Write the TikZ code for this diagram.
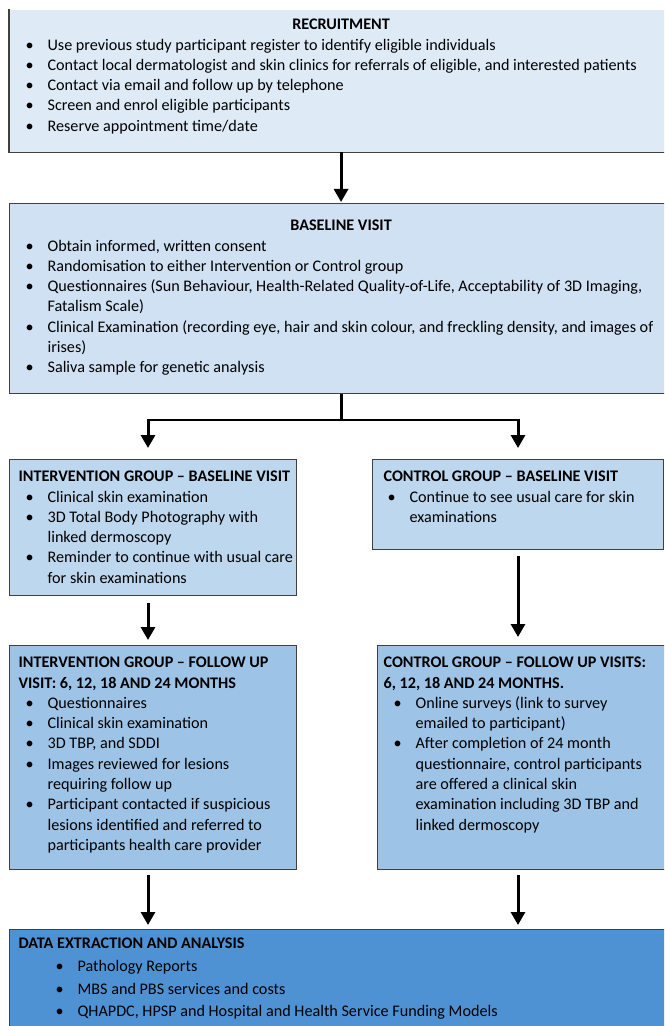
\documentclass[tikz,border=0pt]{standalone}
\usepackage{fontspec}
\setmainfont{Carlito}
\usetikzlibrary{arrows.meta,positioning,calc}
\definecolor{recfill}{HTML}{DEEBF7}
\definecolor{basefill}{HTML}{CFE1F2}
\definecolor{groupfill}{HTML}{BDD7EE}
\definecolor{followfill}{HTML}{9DC3E6}
\definecolor{datafill}{HTML}{4E92D3}
\definecolor{frameline}{HTML}{404040}
\newcommand{\stagetext}[5]{\parbox[c][#2][t]{#1}{\raggedright\leftskip=#3\relax\rightskip=-1cm plus 1fil\relax\vspace*{#4}#5}}
\newcommand{\itm}[2][0.58cm]{\par\hangindent=#1\hangafter=1\noindent\makebox[#1][l]{\hspace{\dimexpr#1-0.44cm\relax}\textbullet}\strut#2}
\newcommand{\heading}[1]{\par\noindent\strut\textbf{#1}}

\begin{document}
\begin{tikzpicture}[x=0.02cm,y=-0.02cm,font=\fontsize{9.2pt}{11.55pt}\selectfont,
 stage/.style={inner sep=0pt,anchor=north west,draw=frameline,line width=.7pt},
 flow/.style={line width=0.06cm,-{Triangle[length=0.26cm,width=0.28cm]}},
 link/.style={line width=0.06cm}]
\useasboundingbox (0,0) rectangle (664,1026);
\clip (0,0) rectangle (664,1026);
\node[stage,draw=none,fill=recfill] (rec) at (9,9) {\stagetext{13.26cm}{2.84cm}{0.18cm}{0.12cm}{%
 \centerline{\strut\textbf{RECRUITMENT}}
 \itm{Use previous study participant register to identify eligible individuals}
 \itm{Contact local dermatologist and skin clinics for referrals of eligible, and interested patients}
 \itm{Contact via email and follow up by telephone}
 \itm{Screen and enrol eligible participants}
 \itm{Reserve appointment time/date}}};
\draw[frameline,line width=.7pt] (rec.north west) -- (rec.south west) -- (rec.south east);
\node[stage,fill=basefill] (base) at (9,203) {\stagetext{13.26cm}{3.8cm}{0.18cm}{0.26cm}{%
 \centerline{\strut\textbf{BASELINE VISIT}}
 \itm{Obtain informed, written consent}
 \itm{Randomisation to either Intervention or Control group}
 \itm{Questionnaires (Sun Behaviour, Health-Related Quality-of-Life, Acceptability of 3D Imaging,\newline Fatalism Scale)}
 \itm{Clinical Examination (recording eye, hair and skin colour, and freckling density, and images of\newline irises)}
 \itm{Saliva sample for genetic analysis}}};
\node[stage,fill=groupfill] (ib) at (9,459) {\stagetext{5.74cm}{2.72cm}{0.18cm}{0.16cm}{%
 \heading{INTERVENTION GROUP -- BASELINE VISIT}
 \itm{Clinical skin examination}
 \itm{3D Total Body Photography with\newline linked dermoscopy}
 \itm{Reminder to continue with usual care\newline for skin examinations}}};
\node[stage,fill=groupfill] (cb) at (372,459) {\stagetext{5.82cm}{1.8cm}{0.22cm}{0.16cm}{%
 \heading{CONTROL GROUP -- BASELINE VISIT}
 \itm[0.52cm]{Continue to see usual care for skin\newline examinations}}};
\node[stage,fill=followfill] (if) at (9,645) {\stagetext{5.74cm}{4.48cm}{0.18cm}{0.16cm}{%
 \heading{INTERVENTION GROUP -- FOLLOW UP\newline VISIT: 6, 12, 18 AND 24 MONTHS}
 \itm{Questionnaires}
 \itm{Clinical skin examination}
 \itm{3D TBP, and SDDI}
 \itm{Images reviewed for lesions\newline requiring follow up}
 \itm{Participant contacted if suspicious\newline lesions identified and referred to\newline participants health care provider}}};
\node[stage,fill=followfill] (cf) at (377,645) {\stagetext{5.9cm}{4.48cm}{0.12cm}{0.16cm}{%
 \heading{CONTROL GROUP -- FOLLOW UP VISITS:\newline 6, 12, 18 AND 24 MONTHS.}
 \itm[0.64cm]{Online surveys (link to survey\newline emailed to participant)}
 \itm[0.64cm]{After completion of 24 month\newline questionnaire, control participants\newline are offered a clinical skin\newline examination including 3D TBP and\newline linked dermoscopy}}};
\node[stage,fill=datafill,font=\fontsize{9.2pt}{12.95pt}\selectfont] (data) at (9,929) {\stagetext{13.26cm}{2.32cm}{0.18cm}{0.06cm}{%
 \heading{DATA EXTRACTION AND ANALYSIS}
 \itm[1.18cm]{Pathology Reports}
 \itm[1.18cm]{MBS and PBS services and costs}
 \itm[1.18cm]{QHAPDC, HPSP and Hospital and Health Service Funding Models}}};
\coordinate (splitL) at (148,420);
\coordinate (splitR) at (518,420);
\coordinate (split) at (base.south |- splitL);
\draw[flow,shorten >=0.02cm] (rec.south) -- (base.north);
\draw[link] (base.south) -- (split);
\draw[flow,shorten >=0.22cm] (split) -| (ib.north -| splitL);
\draw[flow,shorten >=0.22cm] (split) -| (cb.north -| splitR);
\draw[flow,shorten <=0.14cm,shorten >=0.1cm] (ib.south -| splitL) -- (if.north -| splitL);
\draw[flow,shorten <=0.12cm,shorten >=0.16cm] (cb.south -| splitR) -- (cf.north -| splitR);
\foreach \src/\col in {if/splitL,cf/splitR}
 \draw[flow,shorten <=0.1cm,shorten >=0.08cm] (\src.south -| \col) -- (data.north -| \col);
\end{tikzpicture}
\end{document}
